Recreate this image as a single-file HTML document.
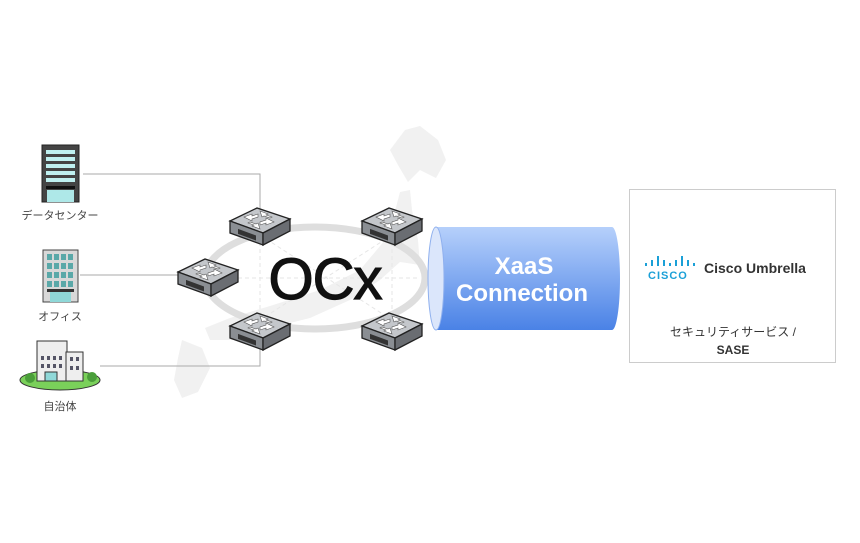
<!DOCTYPE html>
<html><head><meta charset="utf-8"><style>
body{margin:0;background:#fff;width:860px;height:538px;overflow:hidden;font-family:"Liberation Sans","Noto Sans CJK JP",sans-serif}
</style></head><body>
<svg width="860" height="538" viewBox="0 0 860 538" xmlns="http://www.w3.org/2000/svg" font-family="Liberation Sans, Noto Sans CJK JP, sans-serif">
<defs>
<linearGradient id="cyl" x1="0" y1="0" x2="0" y2="1"><stop offset="0" stop-color="#b6d0fb"/><stop offset="1" stop-color="#4a82e6"/></linearGradient>
<g id="sw">
<polygon points="0,13 27,0 60,11 33,25" fill="#c4c7cb" stroke="#222" stroke-width="1.3"/>
<polygon points="0,13 33,25 33,37 0,25" fill="#8a8e93" stroke="#222" stroke-width="1.3"/>
<polygon points="33,25 60,11 60,23 33,37" fill="#6a6d72" stroke="#222" stroke-width="1.3"/>
<rect x="8" y="22" width="18" height="5" fill="#333" transform="skewY(20) translate(0,-4)"/>
<g fill="#fff" stroke="#555" stroke-width="0.6">
<polygon points="14,9 22,6 22,8 28,6 28,9 22,11 22,13"/>
<polygon points="44,14 36,17 36,15 30,17 30,14 36,12 36,10"/>
<polygon points="30,3 38,6 36,7 42,9 40,10 34,8 32,9"/>
<polygon points="30,21 22,18 24,17 18,15 20,14 26,16 28,15"/>
</g>
</g>
</defs>
<g fill="#f1f1f1">
<path d="M405,130 L420,126 L438,140 L446,160 L436,178 L420,170 L408,182 L398,165 L390,150 Z"/>
<path d="M400,192 L410,190 L412,210 L418,240 L420,265 L400,262 L380,280 L350,300 L310,318 L270,328 L240,340 L210,340 L205,328 L230,318 L270,306 L320,290 L360,270 L385,240 L394,215 Z"/>
<path d="M182,340 L202,348 L210,368 L198,392 L182,398 L174,380 L178,358 Z"/>
</g>
<g stroke="#aaa" stroke-width="1" fill="none">
<polyline points="83,174 260,174 260,212"/>
<polyline points="80,275 180,275"/>
<polyline points="100,366 260,366 260,345"/>
</g>
<ellipse cx="315" cy="278" rx="110" ry="51" fill="none" stroke="#dedede" stroke-width="7"/>
<g stroke="#e6e6e6" stroke-width="1" stroke-dasharray="4,3" fill="none">
<line x1="260" y1="235" x2="260" y2="320"/><line x1="392" y1="235" x2="392" y2="320"/>
<line x1="260" y1="235" x2="392" y2="320"/><line x1="392" y1="235" x2="260" y2="320"/>
<line x1="210" y1="278" x2="420" y2="278"/>
</g>
<use href="#sw" x="230" y="208"/>
<use href="#sw" x="362" y="208"/>
<use href="#sw" x="178" y="259"/>
<use href="#sw" x="230" y="313"/>
<use href="#sw" x="362" y="313"/>
<text x="325" y="299" font-size="58" text-anchor="middle" fill="#111" stroke="#111" stroke-width="1.2" letter-spacing="-1">OCx</text>
<path d="M436,227 L612,227 A8,51.5 0 0 1 612,330 L436,330 Z" fill="url(#cyl)"/>
<ellipse cx="436" cy="278.5" rx="8" ry="51.5" fill="#dbe6fb" stroke="#8fb0ee" stroke-width="1"/>
<text x="524" y="274" font-size="24" font-weight="bold" fill="#fff" text-anchor="middle">XaaS</text>
<text x="522" y="301" font-size="24" font-weight="bold" fill="#fff" text-anchor="middle">Connection</text>
<rect x="629.5" y="189.5" width="206" height="173" fill="#fff" stroke="#ccc"/>
<g stroke="#1ba0d7" stroke-width="2">
<line x1="646" y1="263" x2="646" y2="266"/><line x1="652" y1="260" x2="652" y2="266"/><line x1="658" y1="256" x2="658" y2="266"/><line x1="664" y1="260" x2="664" y2="266"/><line x1="670" y1="263" x2="670" y2="266"/><line x1="676" y1="260" x2="676" y2="266"/><line x1="682" y1="256" x2="682" y2="266"/><line x1="688" y1="260" x2="688" y2="266"/><line x1="694" y1="263" x2="694" y2="266"/>
</g>
<text x="648" y="279" font-size="11" font-weight="bold" fill="#1ba0d7" letter-spacing="1">CISCO</text>
<text x="704" y="273" font-size="14" font-weight="bold" fill="#333">Cisco Umbrella</text>
<text x="733" y="336" font-size="12" fill="#333" text-anchor="middle">セキュリティサービス /</text>
<text x="733" y="354" font-size="12" font-weight="bold" fill="#333" text-anchor="middle">SASE</text>
<rect x="42" y="145" width="37" height="57" fill="#444" stroke="#222"/>
<g fill="#bff0f0"><rect x="46" y="150" width="29" height="4"/><rect x="46" y="157" width="29" height="4"/><rect x="46" y="164" width="29" height="4"/><rect x="46" y="171" width="29" height="4"/><rect x="46" y="178" width="29" height="4"/></g>
<rect x="46" y="186" width="29" height="3" fill="#111"/>
<rect x="47" y="190" width="27" height="12" fill="#aee8e8"/>
<text x="60" y="219" font-size="11" fill="#444" text-anchor="middle">データセンター</text>
<rect x="43" y="250" width="35" height="52" fill="#d8d8d8" stroke="#444"/>
<g fill="#5aa8a8">
<rect x="47" y="254" width="5" height="6"/><rect x="54" y="254" width="5" height="6"/><rect x="61" y="254" width="5" height="6"/><rect x="68" y="254" width="5" height="6"/>
<rect x="47" y="263" width="5" height="6"/><rect x="54" y="263" width="5" height="6"/><rect x="61" y="263" width="5" height="6"/><rect x="68" y="263" width="5" height="6"/>
<rect x="47" y="272" width="5" height="6"/><rect x="54" y="272" width="5" height="6"/><rect x="61" y="272" width="5" height="6"/><rect x="68" y="272" width="5" height="6"/>
<rect x="47" y="281" width="5" height="6"/><rect x="54" y="281" width="5" height="6"/><rect x="61" y="281" width="5" height="6"/><rect x="68" y="281" width="5" height="6"/>
</g>
<rect x="47" y="289" width="27" height="3" fill="#333"/>
<rect x="50" y="292" width="21" height="10" fill="#8fd8d8"/>
<text x="60" y="320" font-size="11" fill="#444" text-anchor="middle">オフィス</text>
<ellipse cx="60" cy="380" rx="40" ry="10" fill="#7ad05a" stroke="#333"/>
<rect x="37" y="341" width="30" height="40" fill="#eee" stroke="#333"/>
<rect x="66" y="352" width="17" height="29" fill="#eee" stroke="#333"/>
<g fill="#556"><rect x="41" y="356" width="3" height="4"/><rect x="47" y="356" width="3" height="4"/><rect x="53" y="356" width="3" height="4"/><rect x="59" y="356" width="3" height="4"/><rect x="41" y="364" width="3" height="4"/><rect x="47" y="364" width="3" height="4"/><rect x="53" y="364" width="3" height="4"/><rect x="59" y="364" width="3" height="4"/><rect x="70" y="357" width="3" height="4"/><rect x="76" y="357" width="3" height="4"/><rect x="70" y="366" width="3" height="4"/><rect x="76" y="366" width="3" height="4"/></g>
<rect x="45" y="372" width="12" height="9" fill="#8fd8d8" stroke="#333"/>
<circle cx="30" cy="378" r="5" fill="#4a9e3a"/><circle cx="92" cy="377" r="5" fill="#4a9e3a"/>
<text x="60" y="410" font-size="11" fill="#444" text-anchor="middle">自治体</text>
</svg>
</body></html>
